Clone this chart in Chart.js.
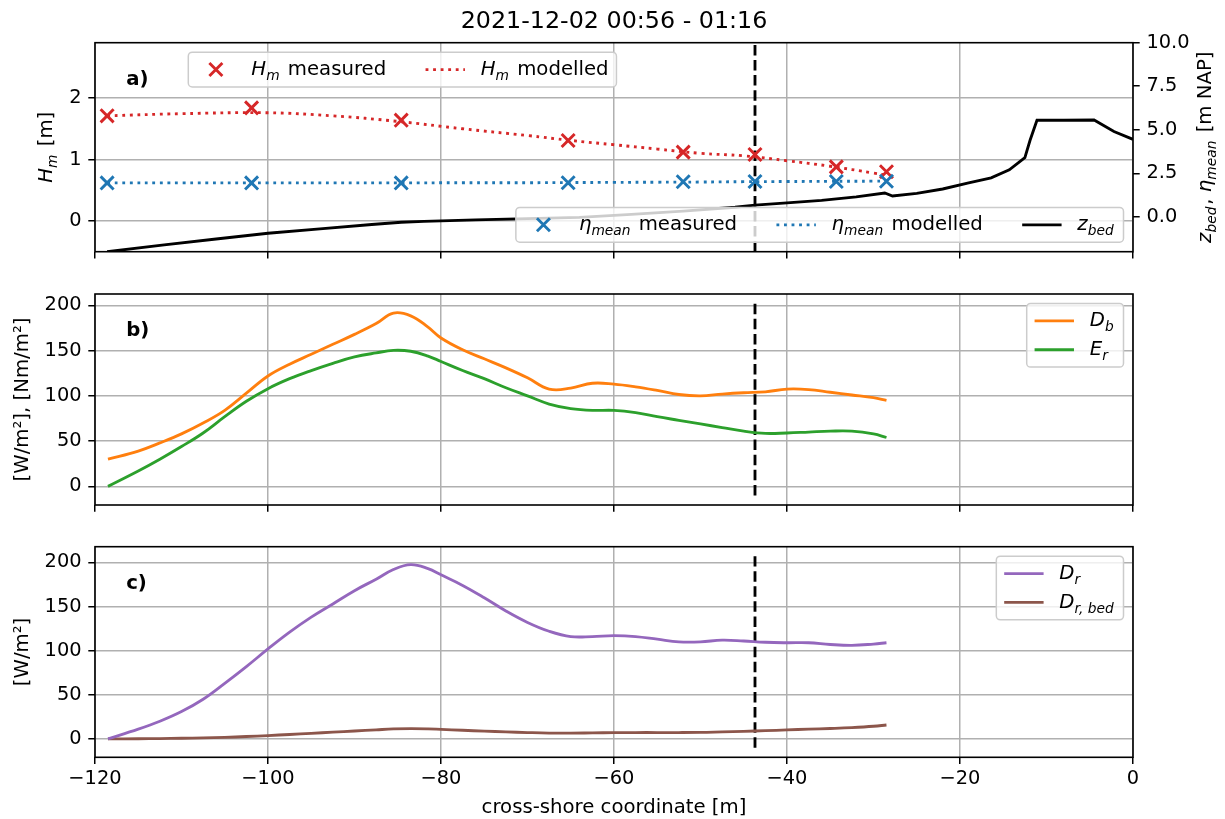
<!DOCTYPE html>
<html>
<head>
<meta charset="utf-8">
<title>Cross-shore wave height and dissipation</title>
<script src="https://cdn.jsdelivr.net/npm/chart.js@4.4.0/dist/chart.umd.min.js"></script>
<style>
  html, body { margin: 0; padding: 0; background: #fff; }
  #wrap { position: relative; width: 1225px; height: 819px; }
  #wrap canvas { position: absolute; left: 0; top: 0; }
</style>
</head>
<body>
<div id="wrap">
  <canvas id="panelA" width="1225" height="819"></canvas>
  <canvas id="panelB" width="1225" height="819"></canvas>
  <canvas id="panelC" width="1225" height="819"></canvas>
</div>
<script>
const titleText = '2021-12-02 00:56 - 01:16';

// tick positions
const xTicks = [-120, -100, -80, -60, -40, -20, 0];
const hmTicks = [0, 1, 2];
const levelTicks = [0, 2.5, 5, 7.5, 10];
const energyTicks = [0, 50, 100, 150, 200];

// axis limits
const xRange = [-120, 0];
const hmRange = [-0.5, 2.9];
const levelRange = [-2, 10];
const rangeB = [-20.6, 212.6];
const rangeC = [-20.85, 217.85];

// wave gauges (panel a)
const gaugeX = [-118.6, -101.9, -84.6, -65.3, -52.0, -43.7, -34.3, -28.5];
const hmMeasured = [1.71, 1.84, 1.64, 1.31, 1.12, 1.08, 0.88, 0.80];
const etaMeasured = [1.95, 1.95, 1.95, 1.96, 2.02, 2.03, 2.03, 2.04];

// model output (panel a)
const modelXa = [-118.6, -110, -100, -92.5, -85, -77.5, -70, -65, -60, -55, -50, -45, -40, -35, -30, -28.5];
const hmModelled = [1.71, 1.745, 1.76, 1.71, 1.62, 1.50, 1.39, 1.31, 1.24, 1.17, 1.10, 1.06, 0.98, 0.89, 0.78, 0.745];
const etaModelled = [1.95, 1.95, 1.95, 1.95, 1.95, 1.96, 1.96, 1.97, 1.98, 1.99, 2.0, 2.02, 2.03, 2.04, 2.05, 2.06];

// bed profile
const bedX = [-118.6, -112, -106, -100, -94, -88, -84.6, -82, -76, -70, -64, -58, -52, -46, -43.7, -40, -36, -32, -28.7, -27.8, -25, -22, -19, -16.4, -14.3, -12.5, -11.9, -11.1, -8, -4.5, -2.2, 0];
const zBed = [-2.0, -1.61, -1.27, -0.94, -0.69, -0.44, -0.31, -0.26, -0.17, -0.10, -0.03, 0.14, 0.33, 0.55, 0.67, 0.80, 0.95, 1.15, 1.37, 1.20, 1.35, 1.60, 1.95, 2.24, 2.70, 3.40, 4.40, 5.55, 5.55, 5.56, 4.90, 4.45];

// dissipation model output (panels b and c)
const modelX = [-118.5, -115, -112.5, -110, -107.5, -105, -102.5, -100, -97.5, -95, -92.5, -90, -87.5, -85.5, -83.5, -81.5, -80, -77.5, -75, -72.5, -70, -67.5, -65, -62.5, -60, -57.5, -55, -52.5, -50, -47.5, -45, -42.5, -40, -37.5, -35, -32.5, -30, -28.5];
const dB = [30, 39, 48, 58, 70, 84, 103, 122, 135, 146, 157, 168, 180, 191.5, 188.5, 176, 164, 151, 141, 131, 120, 107.5, 108.5, 114, 113, 110, 106, 101.5, 100, 102, 103.5, 104.5, 107.5, 107, 104, 101, 98, 95];
const eR = [0, 17, 30, 44, 59, 77, 94, 108, 119, 128, 136, 143, 147.5, 150.3, 149.3, 144, 138, 128, 119, 109, 100, 91, 86, 84, 84, 81.5, 77, 73, 69, 65, 61, 58.5, 59, 60, 61, 61, 58, 54];
const dR = [0, 11, 20, 31, 45, 63, 82, 102, 121, 138, 153, 168, 181, 192, 197.5, 193, 186, 174, 160, 145, 132, 122, 116, 116, 117, 116, 113, 110, 110, 112, 111, 109.5, 109, 109, 107, 106, 107.5, 109];
const dRbed = [0, 0.2, 0.4, 0.7, 1.2, 1.8, 2.7, 3.8, 5, 6.3, 7.6, 9, 10.3, 11.3, 11.7, 11.4, 10.8, 9.8, 8.8, 8, 7.2, 6.6, 6.5, 6.8, 7.1, 7.2, 7.2, 7.2, 7.4, 8, 8.6, 9.3, 10.2, 11, 11.8, 12.8, 14.3, 15.8];

// cross-section marker
const xSection = -43.7;
const sectionSpanB = [-10, 202];
const sectionSpanC = [-10, 207];

const FONT = "'DejaVu Sans', sans-serif";
const FS = 19.7;
const GRID = '#b0b0b0';
const LW = 2.85;
const DOT = [2.85, 4.7];
const DASH = [10.5, 4.6];
const RED = '#d62728', BLUE = '#1f77b4', ORANGE = '#ff7f0e', GREEN = '#2ca02c', PURPLE = '#9467bd', BROWN = '#8c564b';

Chart.defaults.font.family = FONT;
Chart.defaults.font.size = 19.4;
Chart.defaults.color = '#000';

// text with italic letters and subscripts
const sym = (base, sub) => [{ t: base, i: 1 }, { t: sub, i: 1, sub: 1 }];
const HM = sym('H', 'm');
const ETA = sym('\u03b7', 'mean');
const ZBED = sym('z', 'bed');

function segFont(s, size) {
  return (s.b ? 'bold ' : '') + (s.i ? 'italic ' : '') + (s.sub ? size * 0.7 : size) + 'px ' + FONT;
}
function richWidth(ctx, segs, size) {
  let w = 0;
  segs.forEach(s => { ctx.font = segFont(s, size); w += ctx.measureText(s.t).width + (s.sub ? 0.1 * size : 0); });
  return w;
}
function drawRich(ctx, segs, x, y, size) {
  ctx.fillStyle = '#000';
  ctx.textAlign = 'left';
  ctx.textBaseline = 'alphabetic';
  segs.forEach(s => {
    ctx.font = segFont(s, size);
    ctx.fillText(s.t, x, y + (s.sub ? 0.24 * size : 0));
    x += ctx.measureText(s.t).width + (s.sub ? 0.1 * size : 0);
  });
}

function drawHandle(ctx, it, x, y, len) {
  ctx.save();
  ctx.strokeStyle = it.color;
  ctx.beginPath();
  if (it.kind === 'cross') {
    const r = 6.5, cx = x + len / 2;
    ctx.lineWidth = 2.9;
    ctx.moveTo(cx - r, y - r); ctx.lineTo(cx + r, y + r);
    ctx.moveTo(cx - r, y + r); ctx.lineTo(cx + r, y - r);
  } else {
    ctx.lineWidth = LW;
    ctx.setLineDash(it.kind === 'dotted' ? DOT : []);
    ctx.moveTo(x, y); ctx.lineTo(x + len, y);
  }
  ctx.stroke();
  ctx.restore();
}

function drawLegend(ctx, lg, a) {
  const pad = 0.4 * FS, hl = 2 * FS, htp = 0.8 * FS, cs = 2 * FS, rowH = 19, gap = 0.5 * FS;
  const ncol = lg.ncol || 1, nrow = Math.ceil(lg.items.length / ncol);
  const colW = [];
  lg.items.forEach((it, i) => {
    const c = Math.floor(i / nrow);
    colW[c] = Math.max(colW[c] || 0, hl + htp + richWidth(ctx, it.label, FS));
  });
  const w = 2 * pad + colW.reduce((s, v) => s + v, 0) + (ncol - 1) * cs;
  const h = 2 * pad + nrow * rowH + (nrow - 1) * gap;
  let x0 = a.right - 9.5 - w, y0 = a.top + 9.5;
  if (lg.loc === 'lower right') y0 = a.bottom - 9.5 - h;
  if (lg.loc === 'upper left') x0 = lg.left;

  ctx.save();
  ctx.beginPath();
  ctx.roundRect(x0, y0, w, h, 0.2 * FS);
  ctx.fillStyle = 'rgba(255,255,255,0.8)';
  ctx.fill();
  ctx.strokeStyle = '#cccccc';
  ctx.lineWidth = 1.5;
  ctx.stroke();
  ctx.restore();

  let cx = x0 + pad;
  colW.forEach((cw, c) => {
    for (let r = 0; r < nrow; r++) {
      const it = lg.items[c * nrow + r];
      if (!it) continue;
      const cy = y0 + pad + r * (rowH + gap) + rowH / 2;
      drawHandle(ctx, it, cx, cy, hl);
      drawRich(ctx, it.label, cx + hl + htp, cy + 5.5, FS);
    }
    cx += cw + cs;
  });
}

// frame, panel letter, legends and axis labels on top of the data
const decor = {
  id: 'decor',
  afterDatasetsDraw(chart, args, opts) {
    const ctx = chart.ctx, a = chart.chartArea;
    ctx.save();
    ctx.strokeStyle = '#000';
    ctx.lineWidth = 1.6;
    ctx.strokeRect(a.left, a.top, a.right - a.left, a.bottom - a.top);

    drawRich(ctx, [{ t: opts.tag, b: 1 }], a.left + 0.03 * (a.right - a.left), a.bottom - 0.8 * (a.bottom - a.top), FS);

    (opts.legends || []).forEach(lg => drawLegend(ctx, lg, a));

    (opts.yLabels || []).forEach(l => {
      ctx.save();
      ctx.translate(l.x, (a.top + a.bottom) / 2);
      ctx.rotate(-Math.PI / 2);
      drawRich(ctx, l.segs, -richWidth(ctx, l.segs, FS) / 2, 0, FS);
      ctx.restore();
    });
    (opts.texts || []).forEach(l => {
      const size = l.size || FS;
      drawRich(ctx, l.segs, l.x - richWidth(ctx, l.segs, size) / 2, l.y, size);
    });
    ctx.restore();
  }
};

const xy = (xs, ys) => xs.map((x, i) => ({ x, y: ys[i] }));
const minusFmt = v => (v < 0 ? '\u2212' : '') + Math.abs(v);

function lineSet(xs, ys, color, axis, dash, tension) {
  return {
    data: xy(xs, ys), yAxisID: axis, borderColor: color, borderWidth: LW,
    borderDash: dash || [], borderCapStyle: 'butt', pointRadius: 0, fill: false,
    tension: tension === undefined ? 0.4 : tension
  };
}
function markerSet(xs, ys, color, axis) {
  return {
    data: xy(xs, ys), yAxisID: axis, showLine: false, pointStyle: 'crossRot',
    pointRadius: 9.2, pointBorderWidth: 2.9, pointBorderColor: color, pointBackgroundColor: color
  };
}
function sectionSet(span, axis) {
  return lineSet([xSection, xSection], span, '#000', axis || 'y', DASH, 0);
}

function xScale(withLabels) {
  return {
    type: 'linear', min: xRange[0], max: xRange[1],
    afterBuildTicks: s => { s.ticks = xTicks.map(value => ({ value })); },
    afterFit: s => { s.height = withLabels ? 61.7 : 7; },
    border: { display: false },
    grid: { color: GRID, lineWidth: 1.5, tickColor: '#000', tickWidth: 1.5, tickLength: 6.7 },
    ticks: { display: withLabels, padding: 3, maxRotation: 0, autoSkip: false, callback: minusFmt }
  };
}
function yScale(range, ticks, side, fmt, gridOn) {
  return {
    type: 'linear', position: side, min: range[0], max: range[1],
    afterBuildTicks: s => { s.ticks = ticks.map(value => ({ value })); },
    afterFit: s => { s.width = side === 'left' ? 95 : 92; },
    border: { display: false },
    grid: { color: GRID, lineWidth: 1.5, tickColor: '#000', tickWidth: 1.5, tickLength: 6.7, drawOnChartArea: gridOn },
    ticks: { padding: 6.7, autoSkip: false, callback: fmt }
  };
}

const base = { responsive: false, animation: false, devicePixelRatio: 1, events: [] };
const quiet = { legend: { display: false }, tooltip: { enabled: false } };

// a) wave height, mean water level and bed level
new Chart(document.getElementById('panelA'), {
  type: 'line',
  data: { datasets: [
    markerSet(gaugeX, etaMeasured, BLUE, 'y2'),
    lineSet(modelXa, etaModelled, BLUE, 'y2', DOT),
    lineSet(bedX, zBed, '#000', 'y2', null, 0),
    markerSet(gaugeX, hmMeasured, RED, 'y'),
    lineSet(modelXa, hmModelled, RED, 'y', DOT),
    sectionSet(hmRange)
  ] },
  options: {
    ...base,
    layout: { padding: { left: 0, right: 0, top: 42.7, bottom: 819 - 251.7 - 7 } },
    scales: {
      x: xScale(false),
      y: yScale(hmRange, hmTicks, 'left', v => v, true),
      y2: yScale(levelRange, levelTicks, 'right', v => v.toFixed(1), false)
    },
    plugins: { ...quiet, decor: {
      tag: 'a)',
      legends: [
        { loc: 'upper left', left: 188.3, ncol: 2, items: [
          { kind: 'cross', color: RED, label: [...HM, { t: ' measured' }] },
          { kind: 'dotted', color: RED, label: [...HM, { t: ' modelled' }] }
        ] },
        { loc: 'lower right', ncol: 3, items: [
          { kind: 'cross', color: BLUE, label: [...ETA, { t: ' measured' }] },
          { kind: 'dotted', color: BLUE, label: [...ETA, { t: ' modelled' }] },
          { kind: 'line', color: '#000', label: ZBED }
        ] }
      ],
      yLabels: [
        { x: 52, segs: [...HM, { t: ' [m]' }] },
        { x: 1211, segs: [...ZBED, { t: ', ' }, ...ETA, { t: ' [m NAP]' }] }
      ],
      texts: [{ x: 614, y: 28.3, size: 23.8, segs: [{ t: titleText }] }]
    } }
  },
  plugins: [decor]
});

// b) breaking dissipation and roller energy
new Chart(document.getElementById('panelB'), {
  type: 'line',
  data: { datasets: [
    lineSet(modelX, dB, ORANGE, 'y'),
    lineSet(modelX, eR, GREEN, 'y'),
    sectionSet(sectionSpanB)
  ] },
  options: {
    ...base,
    layout: { padding: { left: 0, right: 92, top: 294, bottom: 819 - 505 - 7 } },
    scales: { x: xScale(false), y: yScale(rangeB, energyTicks, 'left', v => v, true) },
    plugins: { ...quiet, decor: {
      tag: 'b)',
      legends: [{ loc: 'upper right', items: [
        { kind: 'line', color: ORANGE, label: sym('D', 'b') },
        { kind: 'line', color: GREEN, label: sym('E', 'r') }
      ] }],
      yLabels: [{ x: 28, segs: [{ t: '[W/m\u00b2], [Nm/m\u00b2]' }] }]
    } }
  },
  plugins: [decor]
});

// c) roller dissipation, total and at the bed
new Chart(document.getElementById('panelC'), {
  type: 'line',
  data: { datasets: [
    lineSet(modelX, dR, PURPLE, 'y'),
    lineSet(modelX, dRbed, BROWN, 'y'),
    sectionSet(sectionSpanC)
  ] },
  options: {
    ...base,
    layout: { padding: { left: 0, right: 92, top: 546.7, bottom: 0 } },
    scales: { x: xScale(true), y: yScale(rangeC, energyTicks, 'left', v => v, true) },
    plugins: { ...quiet, decor: {
      tag: 'c)',
      legends: [{ loc: 'upper right', items: [
        { kind: 'line', color: PURPLE, label: sym('D', 'r') },
        { kind: 'line', color: BROWN, label: sym('D', 'r, bed') }
      ] }],
      yLabels: [{ x: 28, segs: [{ t: '[W/m\u00b2]' }] }],
      texts: [{ x: 614, y: 812.5, segs: [{ t: 'cross-shore coordinate [m]' }] }]
    } }
  },
  plugins: [decor]
});
</script>
</body>
</html>
